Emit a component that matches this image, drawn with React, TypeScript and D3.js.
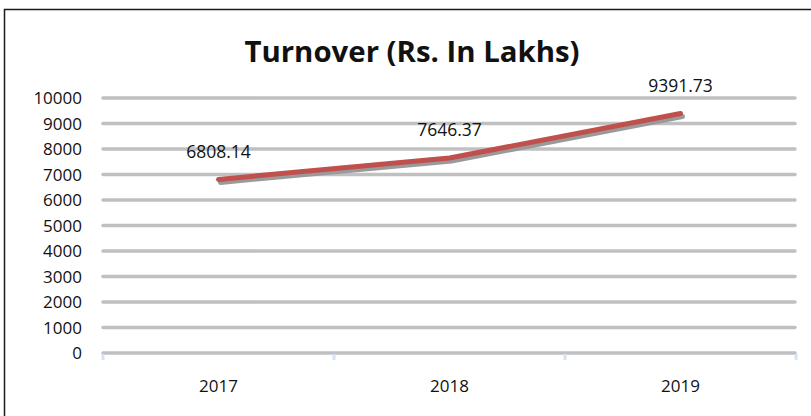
import { useEffect, useRef } from "react";
import * as d3 from "d3";

const years = ["2017", "2018", "2019"];
const turnover = [6808.14, 7646.37, 9391.73];
const yTicks = [0, 1000, 2000, 3000, 4000, 5000, 6000, 7000, 8000, 9000, 10000];

const W = 811;
const H = 416;

const App = () => {
  const svgRef = useRef<SVGSVGElement>(null);

  useEffect(() => {
    if (!svgRef.current) return;
    const svg = d3.select(svgRef.current);
    svg.selectAll("*").remove();

    const font = "'Open Sans', 'Liberation Sans', sans-serif";
    const left = 103;
    const right = 796;
    const top = 98;
    const bottom = 353;

    const x = d3.scaleBand().domain(years).range([left, right]);
    const y = d3.scaleLinear().domain([0, 10000]).range([bottom, top]);

    // frame
    svg
      .append("path")
      .attr("d", `M4.5,${H} L4.5,9.5 L${W},9.5`)
      .attr("fill", "none")
      .attr("stroke", "#1a1a1a")
      .attr("stroke-width", 1.5);

    // title
    svg
      .append("text")
      .attr("x", 412)
      .attr("y", 62)
      .attr("text-anchor", "middle")
      .attr("textLength", 335)
      .attr("lengthAdjust", "spacingAndGlyphs")
      .style("font-family", font)
      .style("font-weight", "bold")
      .style("font-size", "28px")
      .attr("fill", "#111")
      .text("Turnover (Rs. In Lakhs)");

    // grid lines
    svg
      .append("g")
      .selectAll("line")
      .data(yTicks)
      .join("line")
      .attr("x1", left)
      .attr("x2", right - 1)
      .attr("y1", (d) => y(d))
      .attr("y2", (d) => y(d))
      .attr("stroke", "#c0c0c0")
      .attr("stroke-width", 3.5)
      .attr("stroke-linecap", "round");

    // y labels
    svg
      .append("g")
      .selectAll("text")
      .data(yTicks)
      .join("text")
      .attr("x", 82)
      .attr("y", (d) => y(d))
      .attr("dy", "0.36em")
      .attr("text-anchor", "end")
      .style("font-family", font)
      .style("font-size", "17px")
      .attr("fill", "#111")
      .text((d) => String(d));

    // x tick marks
    const edges = [...years.map((c) => x(c) ?? 0), right];
    svg
      .append("g")
      .selectAll("line")
      .data(edges)
      .join("line")
      .attr("x1", (d) => d)
      .attr("x2", (d) => d)
      .attr("y1", bottom + 1)
      .attr("y2", bottom + 7)
      .attr("stroke", "#d5e3f5")
      .attr("stroke-width", 3);

    // x labels
    svg
      .append("g")
      .selectAll("text")
      .data(years)
      .join("text")
      .attr("x", (d) => (x(d) ?? 0) + x.bandwidth() / 2)
      .attr("y", 386)
      .attr("dy", "0.36em")
      .attr("text-anchor", "middle")
      .style("font-family", font)
      .style("font-size", "17px")
      .attr("fill", "#111")
      .text((d) => d);

    const pts = years.map((c, i) => [
      (x(c) ?? 0) + x.bandwidth() / 2,
      y(turnover[i]),
    ] as [number, number]);
    const line = d3.line();

    // shadow
    svg
      .append("path")
      .attr("d", line(pts) ?? "")
      .attr("transform", "translate(2,3)")
      .attr("fill", "none")
      .attr("stroke", "#9a9a9a")
      .attr("stroke-width", 5)
      .attr("stroke-linecap", "round")
      .attr("stroke-linejoin", "round");

    svg
      .append("path")
      .attr("d", line(pts) ?? "")
      .attr("fill", "none")
      .attr("stroke", "#c0504d")
      .attr("stroke-width", 5)
      .attr("stroke-linecap", "round")
      .attr("stroke-linejoin", "round");

    // data labels
    svg
      .append("g")
      .selectAll("text")
      .data(turnover)
      .join("text")
      .attr("x", (_, i) => pts[i][0])
      .attr("y", (_, i) => pts[i][1] - 28)
      .attr("dy", "0.36em")
      .attr("text-anchor", "middle")
      .style("font-family", font)
      .style("font-size", "17.5px")
      .attr("fill", "#111")
      .text((d) => d.toFixed(2));
  }, []);

  return (
    <svg
      ref={svgRef}
      width={W}
      height={H}
      style={{ position: "absolute", left: 0, top: 0, background: "#fff" }}
    />
  );
};

export default App;
